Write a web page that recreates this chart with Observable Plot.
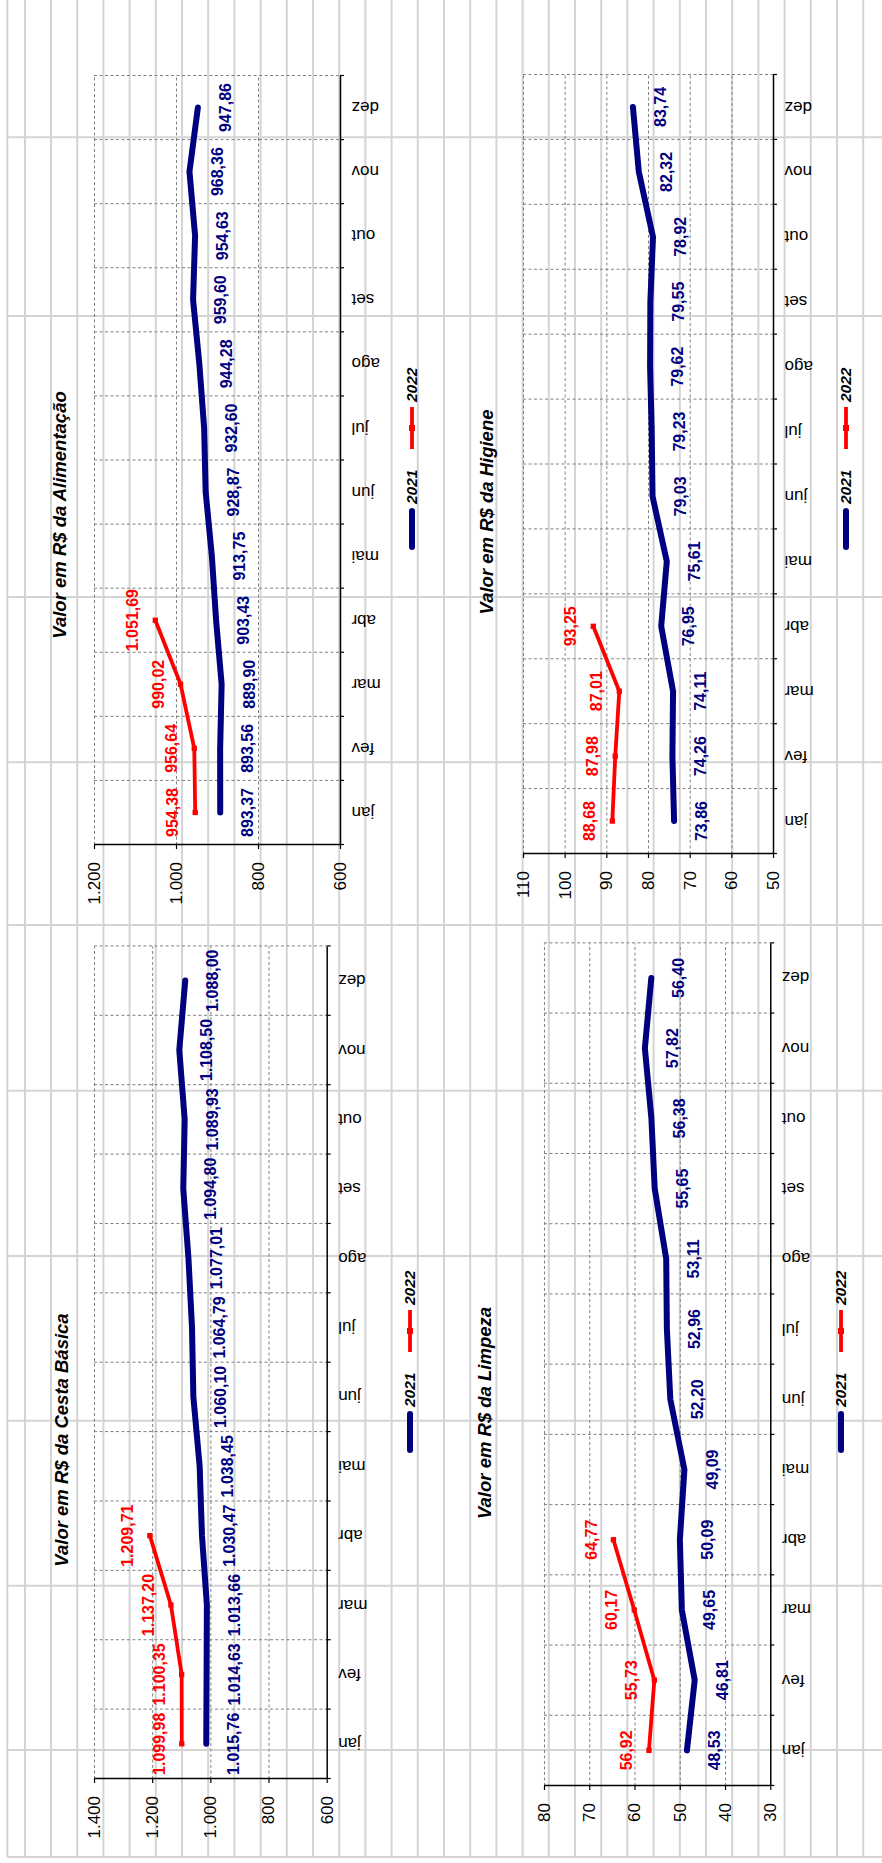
<!DOCTYPE html>
<html>
<head>
<meta charset="utf-8">
<script src="https://cdn.jsdelivr.net/npm/d3@7"></script>
<script src="https://cdn.jsdelivr.net/npm/@observablehq/plot@0.6"></script>
<style>
html,body{margin:0;padding:0;background:#fff;}
body{width:882px;height:1863px;position:relative;overflow:hidden;font-family:"Liberation Sans",Arial,sans-serif;}
#bg{position:absolute;left:0;top:0;width:882px;height:1863px;}
#page{position:absolute;left:0;top:0;width:1863px;height:882px;transform-origin:0 0;transform:translate(0px,1863px) rotate(-90deg);}
.chart{position:absolute;}
.title{position:absolute;font:italic bold 18.5px "Liberation Sans",Arial,sans-serif;white-space:nowrap;transform:translate(-50%,-50%);color:#000;}
.leg{position:absolute;font:italic bold 15.5px "Liberation Sans",Arial,sans-serif;white-space:nowrap;transform:translateY(-50%);line-height:1;color:#000;}
.legsw{position:absolute;transform:translateY(-50%);}
</style>
</head>
<body>
<svg id="bg" width="882" height="1863"></svg>
<div id="page"></div>
<script>
// ---------- data ----------
const months = ["jan","fev","mar","abr","mai","jun","jul","ago","set","out","nov","dez"];

const cesta2021 = [1015.76, 1014.63, 1013.66, 1030.47, 1038.45, 1060.10, 1064.79, 1077.01, 1094.80, 1089.93, 1108.50, 1088.00];
const cesta2022 = [1099.98, 1100.35, 1137.20, 1209.71];

const alim2021 = [893.37, 893.56, 889.90, 903.43, 913.75, 928.87, 932.60, 944.28, 959.60, 954.63, 968.36, 947.86];
const alim2022 = [954.38, 956.64, 990.02, 1051.69];

const limp2021 = [48.53, 46.81, 49.65, 50.09, 49.09, 52.20, 52.96, 53.11, 55.65, 56.38, 57.82, 56.40];
const limp2022 = [56.92, 55.73, 60.17, 64.77];

const hig2021 = [73.86, 74.26, 74.11, 76.95, 75.61, 79.03, 79.23, 79.62, 79.55, 78.92, 82.32, 83.74];
const hig2022 = [88.68, 87.98, 87.01, 93.25];

const seriesNames = ["2021", "2022"];

// ---------- spreadsheet background (decoration) ----------
const bg = d3.select("#bg");
const colXs = [7.3, 25].concat(d3.range(0, 32).map(k => 51 + 26.2 * k));
const rowYs = [137.3, 316, 597, 762.3, 925, 1090.7, 1256, 1420.7, 1585.7, 1750, 1857];
bg.selectAll("line.v").data(colXs).join("line").attr("class","v")
  .attr("x1", d => d).attr("x2", d => d).attr("y1", 0).attr("y2", 1857)
  .attr("stroke", "#d4d4d4").attr("stroke-width", 2);
bg.selectAll("line.h").data(rowYs).join("line").attr("class","h")
  .attr("x1", 7.3).attr("x2", 882).attr("y1", d => d).attr("y2", d => d)
  .attr("stroke", "#d4d4d4").attr("stroke-width", 2);

// ---------- formatting ----------
const loc = d3.formatLocale({decimal: ",", thousands: ".", grouping: [3], currency: ["R$ ", ""]});
const f2 = loc.format(",.2f");
const f0 = loc.format(",.0f");

const BLUE = "#000080", RED = "#ff0000";
const page = document.getElementById("page");

function chart(cfg) {
  const [X0, X1, Y0, Y1] = cfg.box;
  const mL = 90, mR = 14, mT = 14, mB = 70;
  const W = X1 - X0 + mL + mR, H = Y1 - Y0 + mT + mB;
  const d21 = cfg.a.map((v, i) => ({x: i + 0.5, v, s: seriesNames[0]}));
  const d22 = cfg.b.map((v, i) => ({x: i + 0.5, v, s: seriesNames[1]}));
  const ticks = d3.range(cfg.domain[0], cfg.domain[1] + cfg.step / 2, cfg.step);
  const p = Plot.plot({
    width: W, height: H,
    marginLeft: mL, marginRight: mR, marginTop: mT, marginBottom: mB,
    style: {background: "transparent", fontFamily: "'Liberation Sans', Arial, sans-serif", fontSize: "17px", color: "#000", overflow: "visible"},
    x: {domain: [0, 12], label: null},
    y: {domain: cfg.domain, label: null},
    marks: [
      Plot.ruleY(ticks.slice(1), {stroke: "#808080", strokeDasharray: "3,2.5", strokeWidth: 1, strokeOpacity: 1}),
      Plot.ruleX(d3.range(1, 13), {stroke: "#808080", strokeDasharray: "3,2.5", strokeWidth: 1, strokeOpacity: 1}),
      Plot.ruleY([cfg.domain[0]], {stroke: "#000", strokeWidth: 1.5}),
      Plot.ruleX([0], {stroke: "#000", strokeWidth: 1.5}),
      Plot.axisY(ticks, {label: null, tickSize: 4, tickPadding: 13.5, tickFormat: f0, fontSize: 17, stroke: "#000", strokeWidth: 1.2, fill: "#000"}),
      Plot.axisX(d3.range(0, 13), {label: null, tickSize: 4, tickFormat: () => "", stroke: "#000", strokeWidth: 1.2}),
      Plot.axisX(d3.range(12).map(i => i + 0.5), {label: null, tickSize: 0, tickPadding: 11, tickRotate: -90, tickFormat: d => months[Math.floor(d)], fontSize: 17, fill: "#000"}),
      Plot.line(d21, {x: "x", y: "v", stroke: BLUE, strokeWidth: 6, strokeLinecap: "round", strokeLinejoin: "round"}),
      Plot.line(d22, {x: "x", y: "v", stroke: RED, strokeWidth: 3.8, strokeLinejoin: "round"}),
      Plot.dot(d22, {x: "x", y: "v", symbol: "square", r: 3, fill: RED, stroke: "none"}),
      Plot.text(d21, {x: "x", y: "v", text: d => f2(d.v), dy: 28, fill: BLUE, fontWeight: "bold", fontSize: 16}),
      Plot.text(d22, {x: "x", y: "v", text: d => f2(d.v), dy: -22, fill: RED, fontWeight: "bold", fontSize: 16})
    ]
  });
  const wrap = document.createElement("div");
  wrap.className = "chart";
  wrap.style.left = (X0 - mL) + "px";
  wrap.style.top = (Y0 - mT) + "px";
  wrap.appendChild(p);
  page.appendChild(wrap);

  const t = document.createElement("div");
  t.className = "title";
  t.textContent = cfg.title;
  t.style.left = cfg.titlePos[0] + "px";
  t.style.top = cfg.titlePos[1] + "px";
  page.appendChild(t);

  // legend
  const [lx, ly] = cfg.legendPos;
  const sw1 = document.createElement("div");
  sw1.className = "legsw";
  sw1.style.left = lx + "px"; sw1.style.top = ly + "px";
  sw1.innerHTML = `<svg width="42" height="10" style="display:block"><line x1="3" x2="39" y1="5" y2="5" stroke="${BLUE}" stroke-width="6" stroke-linecap="round"/></svg>`;
  page.appendChild(sw1);
  const l1 = document.createElement("div");
  l1.className = "leg"; l1.textContent = seriesNames[0];
  l1.style.left = (lx + 46) + "px"; l1.style.top = ly + "px";
  page.appendChild(l1);
  const sw2 = document.createElement("div");
  sw2.className = "legsw";
  sw2.style.left = (lx + 101) + "px"; sw2.style.top = ly + "px";
  sw2.innerHTML = `<svg width="42" height="10" style="display:block"><line x1="0" x2="42" y1="5" y2="5" stroke="${RED}" stroke-width="3.8"/><rect x="18" y="2" width="6" height="6" fill="${RED}"/></svg>`;
  page.appendChild(sw2);
  const l2 = document.createElement("div");
  l2.className = "leg"; l2.textContent = seriesNames[1];
  l2.style.left = (lx + 148) + "px"; l2.style.top = ly + "px";
  page.appendChild(l2);
}

chart({title: "Valor em R$ da Cesta Básica", a: cesta2021, b: cesta2022, domain: [600, 1400], step: 200,
       box: [83.7, 916.3, 94, 326.7], titlePos: [423, 62], legendPos: [410, 410]});
chart({title: "Valor em R$ da Alimentação", a: alim2021, b: alim2022, domain: [600, 1200], step: 200,
       box: [1018, 1787, 94, 340], titlePos: [1348, 60], legendPos: [1313, 411.7]});
chart({title: "Valor em R$ da Limpeza", a: limp2021, b: limp2022, domain: [30, 80], step: 10,
       box: [77, 919.7, 543.7, 770], titlePos: [450, 485], legendPos: [410, 841]});
chart({title: "Valor em R$ da Higiene", a: hig2021, b: hig2022, domain: [50, 110], step: 10,
       box: [1009, 1788, 523.3, 773.3], titlePos: [1351, 487], legendPos: [1313, 846]});
</script>
</body>
</html>
